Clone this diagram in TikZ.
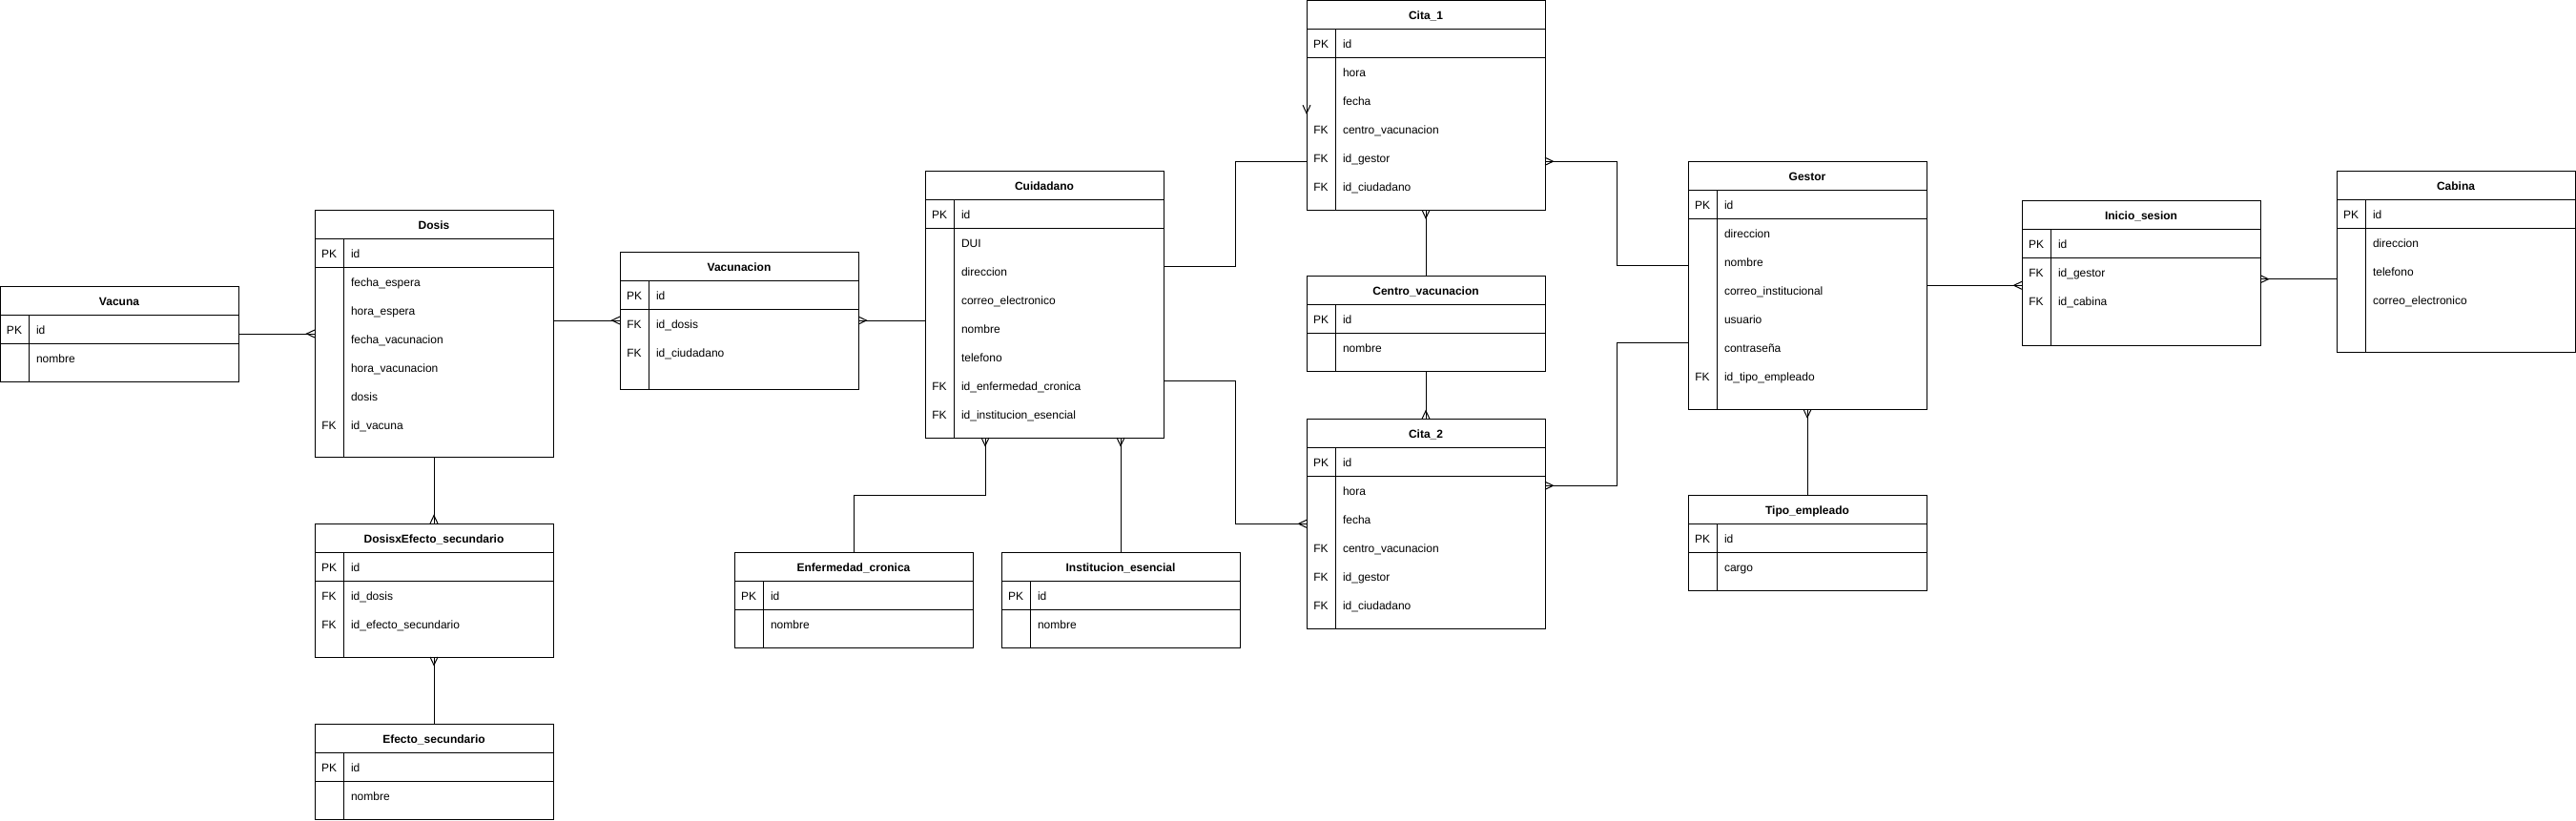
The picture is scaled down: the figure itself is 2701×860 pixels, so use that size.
\documentclass[tikz,border=0pt]{standalone}
\usepackage{fontspec}
\setmainfont{Liberation Sans}
\usetikzlibrary{calc}
\def\pxu{0.75pt}
\tikzset{
  frame/.style={line width=0.75pt, draw=black},
  tbl/.style={draw=black, line width=0.75pt, minimum width=250*\pxu, inner sep=0pt, outer sep=0pt, anchor=north west},
  txt/.style={inner sep=0pt, outer sep=0pt, text height=9pt, text depth=1.5pt, font=\fontsize{9pt}{10.8pt}\selectfont},
  ttl/.style={txt, font=\fontsize{9pt}{10.8pt}\selectfont\bfseries},
  keytxt/.style={txt},
  fld/.style={txt, anchor=west},
  conn/.style={line width=0.75pt, draw=black, line join=miter},
  crow/.pic={\draw[conn] (0,-4) -- (8.5,0) -- (0,4);}
}
\newcommand{\ertable}[6]{%
  \node[tbl, minimum height=#4*\pxu] (#1) at (#2,#3) {};
  \node[ttl] (#1-t) at ($(#1.north)+(0,15)$) {#5};
  \draw[frame] ($(#1.north west)+(0,30)$) -- ($(#1.north east)+(0,30)$);
  \draw[frame] ($(#1.north west)+(0,60)$) -- ($(#1.north east)+(0,60)$);
  \draw[frame] ($(#1.north west)+(30,30)$) -- ($(#1.south west)+(30,0)$);
  \node[keytxt] (#1-pk) at ($(#1.north west)+(15,45)$) {PK};
  \node[fld] (#1-id) at ($(#1.north west)+(38,45)$) {#6};
}
\newcommand{\errow}[4]{%
  \node[keytxt] (#1-k#2) at ($(#1.north west)+(15,{45+30*#2})$) {#3};
  \node[fld] (#1-f#2) at ($(#1.north west)+(38,{45+30*#2})$) {#4};
}
\begin{document}
\begin{tikzpicture}[x=0.75pt, y=-0.75pt]
\useasboundingbox (0,0) rectangle (2701,860);
\fill[white] (0,0) rectangle (2701,860);

% Vacuna
\ertable{vac}{0}{300}{100}{Vacuna}{id}
\errow{vac}{1}{}{nombre}
% Dosis
\ertable{dosis}{330}{220}{259}{Dosis}{id}
\errow{dosis}{1}{}{fecha\_espera}
\errow{dosis}{2}{}{hora\_espera}
\errow{dosis}{3}{}{fecha\_vacunacion}
\errow{dosis}{4}{}{hora\_vacunacion}
\errow{dosis}{5}{}{dosis}
\errow{dosis}{6}{FK}{id\_vacuna}
% DosisxEfecto_secundario
\ertable{dxe}{330}{549}{140}{DosisxEfecto\_secundario}{id}
\errow{dxe}{1}{FK}{id\_dosis}
\errow{dxe}{2}{FK}{id\_efecto\_secundario}
% Efecto_secundario
\ertable{efs}{330}{759}{100}{Efecto\_secundario}{id}
\errow{efs}{1}{}{nombre}
% Vacunacion
\ertable{vacn}{650}{264}{144}{Vacunacion}{id}
\errow{vacn}{1}{FK}{id\_dosis}
\errow{vacn}{2}{FK}{id\_ciudadano}
% Cuidadano
\ertable{cuid}{970}{179}{280}{Cuidadano}{id}
\errow{cuid}{1}{}{DUI}
\errow{cuid}{2}{}{direccion}
\errow{cuid}{3}{}{correo\_electronico}
\errow{cuid}{4}{}{nombre}
\errow{cuid}{5}{}{telefono}
\errow{cuid}{6}{FK}{id\_enfermedad\_cronica}
\errow{cuid}{7}{FK}{id\_institucion\_esencial}
% Enfermedad_cronica
\ertable{enf}{770}{579}{100}{Enfermedad\_cronica}{id}
\errow{enf}{1}{}{nombre}
% Institucion_esencial
\ertable{inst}{1050}{579}{100}{Institucion\_esencial}{id}
\errow{inst}{1}{}{nombre}
% Cita_1
\ertable{cita1}{1370}{0.75}{219.5}{Cita\_1}{id}
\errow{cita1}{1}{}{hora}
\errow{cita1}{2}{}{fecha}
\errow{cita1}{3}{FK}{centro\_vacunacion}
\errow{cita1}{4}{FK}{id\_gestor}
\errow{cita1}{5}{FK}{id\_ciudadano}
% Centro_vacunacion
\ertable{centro}{1370}{289.3}{100}{Centro\_vacunacion}{id}
\errow{centro}{1}{}{nombre}
% Cita_2
\ertable{cita2}{1370}{439.3}{219.7}{Cita\_2}{id}
\errow{cita2}{1}{}{hora}
\errow{cita2}{2}{}{fecha}
\errow{cita2}{3}{FK}{centro\_vacunacion}
\errow{cita2}{4}{FK}{id\_gestor}
\errow{cita2}{5}{FK}{id\_ciudadano}
% Gestor
\ertable{gestor}{1770}{169.3}{260}{Gestor}{id}
\errow{gestor}{1}{}{direccion}
\errow{gestor}{2}{}{nombre}
\errow{gestor}{3}{}{correo\_institucional}
\errow{gestor}{4}{}{usuario}
\errow{gestor}{5}{}{contraseña}
\errow{gestor}{6}{FK}{id\_tipo\_empleado}
% Tipo_empleado
\ertable{tipo}{1770}{519.3}{100}{Tipo\_empleado}{id}
\errow{tipo}{1}{}{cargo}
% Inicio_sesion
\ertable{inicio}{2120}{210.7}{151.3}{Inicio\_sesion}{id}
\errow{inicio}{1}{FK}{id\_gestor}
\errow{inicio}{2}{FK}{id\_cabina}
% Cabina
\ertable{cabina}{2450}{179.3}{190}{Cabina}{id}
\errow{cabina}{1}{}{direccion}
\errow{cabina}{2}{}{telefono}
\errow{cabina}{3}{}{correo\_electronico}

% ---------- connectors ----------
% Vacuna - Dosis
\draw[conn] (vac.east) -- (vac.east -| dosis.west);
\pic[rotate=180] at (vac.east -| dosis.west) {crow};
% Dosis - DosisxEfecto
\draw[conn] (dosis.south) -- (dxe.north);
\pic[rotate=90] at (dxe.north) {crow};
% Efecto - DosisxEfecto
\draw[conn] (efs.north) -- (dxe.south);
\pic[rotate=-90] at (dxe.south) {crow};
% Dosis - Vacunacion
\draw[conn] (vacn.west -| dosis.east) -- (vacn.west);
\pic[rotate=180] at (vacn.west) {crow};
% Vacunacion - Cuidadano
\draw[conn] (vacn.east) -- (vacn.east -| cuid.west);
\pic at (vacn.east) {crow};
% Cuidadano - Cita_1
\coordinate (c6a) at ($(cuid.north east)+(0,100)$);
\coordinate (c6b) at ($(cita1.north west)+(0,168.5)$);
\draw[conn] (c6a) -- ++(75,0) |- (c6b);
\pic[rotate=-90] at ($(cita1.north west)+(0,109.5)$) {crow};
% Cuidadano - Cita_2
\coordinate (c7a) at ($(cuid.north east)+(0,220)$);
\coordinate (c7b) at ($(cita2.north west)+(0,110)$);
\draw[conn] (c7a) -- ++(75,0) |- (c7b);
\pic[rotate=180] at (c7b) {crow};
% Cita_1 - Gestor
\coordinate (c8a) at ($(cita1.north east)+(0,168.5)$);
\coordinate (c8b) at ($(gestor.north west)+(0,109.5)$);
\draw[conn] (c8a) -- ++(75,0) |- (c8b);
\pic at (c8a) {crow};
% Gestor - Cita_2
\coordinate (c9a) at ($(gestor.north west)+(0,190)$);
\coordinate (c9b) at ($(cita2.north east)+(0,70)$);
\draw[conn] (c9a) -- ++(-75,0) |- (c9b);
\pic at (c9b) {crow};
% Centro - Cita_1 / Cita_2
\draw[conn] (centro.north) -- (cita1.south);
\pic[rotate=-90] at (cita1.south) {crow};
\draw[conn] (centro.south) -- (cita2.north);
\pic[rotate=90] at (cita2.north) {crow};
% Enfermedad - Cuidadano
\coordinate (c12) at ($(cuid.south west)+(63,0)$);
\draw[conn] (enf.north) -- ++(0,-60) -| (c12);
\pic[rotate=-90] at (c12) {crow};
% Institucion - Cuidadano
\coordinate (c13) at (inst.north |- cuid.south);
\draw[conn] (inst.north) -- (c13);
\pic[rotate=-90] at (c13) {crow};
% Gestor - Inicio_sesion
\coordinate (c14) at ($(gestor.north east)+(0,130)$);
\draw[conn] (c14) -- (c14 -| inicio.west);
\pic[rotate=180] at (c14 -| inicio.west) {crow};
% Cabina - Inicio_sesion
\coordinate (c15) at ($(cabina.north west)+(0,113.4)$);
\draw[conn] (c15) -- (c15 -| inicio.east);
\pic at (c15 -| inicio.east) {crow};
% Tipo_empleado - Gestor
\draw[conn] (tipo.north) -- (gestor.south);
\pic[rotate=-90] at (gestor.south) {crow};
\end{tikzpicture}
\end{document}
